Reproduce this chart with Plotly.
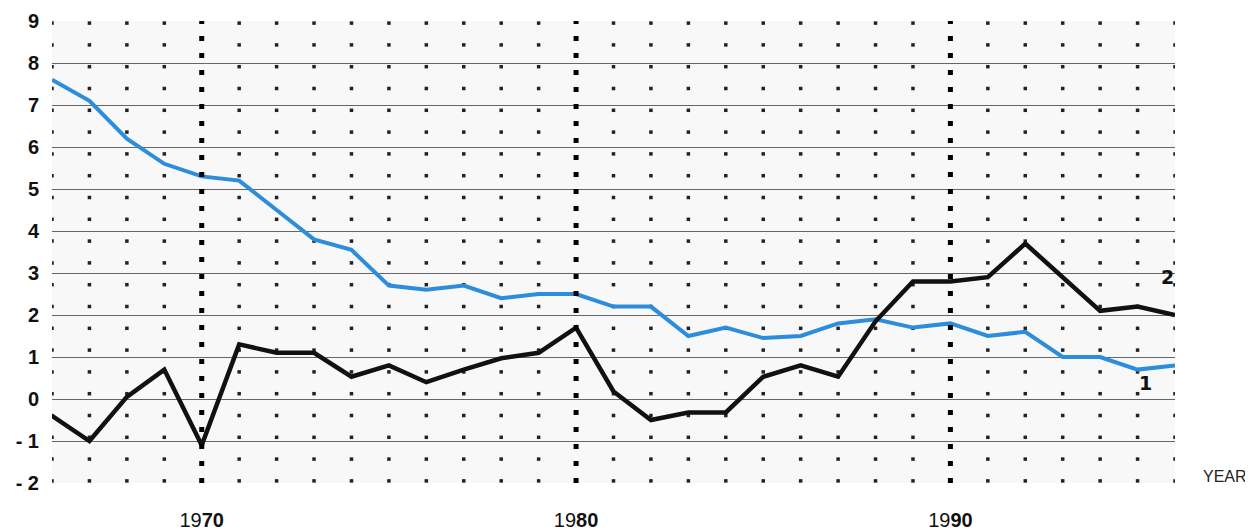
import numpy as np
import plotly.graph_objects as go

years = list(range(1966, 1997))
series1 = [7.6, 7.1, 6.2, 5.6, 5.3, 5.2, 4.5, 3.8, 3.55, 2.7,
           2.6, 2.7, 2.4, 2.5, 2.5, 2.2, 2.2, 1.5, 1.7, 1.45,
           1.5, 1.8, 1.9, 1.7, 1.8, 1.5, 1.6, 1.0, 1.0, 0.7, 0.8]
series2 = [-0.4, -1.0, 0.05, 0.7, -1.1, 1.3, 1.1, 1.1, 0.53, 0.8,
           0.4, 0.7, 0.97, 1.1, 1.7, 0.18, -0.5, -0.32, -0.32, 0.53,
           0.8, 0.53, 1.85, 2.8, 2.8, 2.9, 3.7, 2.9, 2.1, 2.2, 2.0]

decade_years = [1970, 1980, 1990]
decade_prefix = ["19", "19", "19"]
decade_suffix = ["70", "80", "90"]
y_ticks = [-2, -1, 0, 1, 2, 3, 4, 5, 6, 7, 8, 9]
y_labels = ["- 2", "- 1", "0", "1", "2", "3", "4", "5", "6", "7", "8", "9"]

FONT = "Liberation Sans, Arial, sans-serif"

fig = go.Figure()

# small dot grid at every year (except decades)
dot_levels = np.linspace(8.95, -1.95, 22)
dx, dy = [], []
for yr in years:
    if yr in decade_years:
        continue
    for lv in dot_levels:
        dx.append(yr)
        dy.append(lv)
fig.add_trace(go.Scatter(x=dx, y=dy, mode="markers",
                         marker=dict(symbol="square", size=3.5, color="#222222"),
                         hoverinfo="skip", showlegend=False))

# heavy dotted decade lines
for yr in decade_years:
    fig.add_shape(type="line", xref="x", yref="y", x0=yr, x1=yr, y0=-2, y1=9,
                  line=dict(color="#000000", width=5, dash="5px,12px"), layer="above")

fig.add_trace(go.Scatter(x=years, y=series1, mode="lines",
                         line=dict(color="#2b8ddc", width=4), showlegend=False))
fig.add_trace(go.Scatter(x=years, y=series2, mode="lines",
                         line=dict(color="#111111", width=4.5), showlegend=False))

fig.add_annotation(x=1995.8, y=2.9, text="<b>2</b>", showarrow=False,
                   font=dict(family="DejaVu Sans, sans-serif", size=19, color="#111"))
fig.add_annotation(x=1995.2, y=0.38, text="<b>1</b>", showarrow=False,
                   font=dict(family="DejaVu Sans, sans-serif", size=19, color="#111"))
fig.add_annotation(xref="paper", yref="paper", x=1.0, xshift=50, y=0.015,
                   text="YEAR", showarrow=False, xanchor="center", yanchor="middle",
                   font=dict(family=FONT, size=16, color="#222"))

# page body has an 8px margin, so the figure is sized/offset to compensate
fig.update_layout(
    width=1245, height=524,
    margin=dict(l=44, r=78, t=13, b=49, autoexpand=False),
    paper_bgcolor="#ffffff",
    plot_bgcolor="#f8f8f8",
    showlegend=False,
    xaxis=dict(range=[1966, 1996], showgrid=False, zeroline=False, automargin=False,
               tickvals=decade_years,
               ticktext=[p + "<b>" + s + "</b>" for p, s in zip(decade_prefix, decade_suffix)],
               ticks="outside", ticklen=19, tickcolor="rgba(0,0,0,0)",
               tickfont=dict(family=FONT, size=20, color="#111"),
               showline=False),
    yaxis=dict(range=[-2, 9], showgrid=True, gridcolor="#666666", gridwidth=1,
               zeroline=False, automargin=False, tickvals=y_ticks,
               ticktext=["<b>" + t + "</b>" for t in y_labels],
               ticks="outside", ticklen=8, tickcolor="rgba(0,0,0,0)",
               tickfont=dict(family=FONT, size=20, color="#111"),
               showline=False),
)

fig.write_html("out.html")
